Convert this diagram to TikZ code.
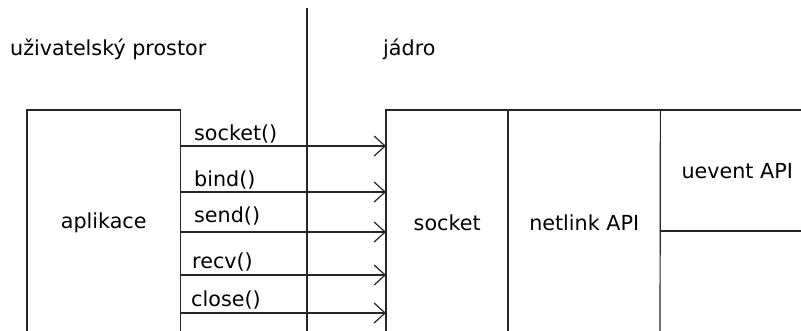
\documentclass[tikz,border=0pt]{standalone}
\usepackage{fontspec}
\setmainfont{DejaVu Sans}
\usetikzlibrary{arrows.meta}
\begin{document}
\begin{tikzpicture}[x=1pt,y=-1pt,
  cell/.style={rectangle,inner sep=0pt,font=\fontsize{20.7}{23}\selectfont},
  lbl/.style={inner sep=0pt,anchor=base west,font=\fontsize{20.7}{23}\selectfont},
  ln/.style={line width=1.2pt,draw=black!85},
  arr/.style={ln,-{Straight Barb[length=11pt,width=20pt,line width=1.2pt]}}]
\useasboundingbox (0,0) rectangle (801,330);
% titles
\node[lbl] (user) at (10,55) {uživatelský prostor};
\node[lbl] (kern) at (383,55) {jádro};
% divider
\coordinate (dtop) at (307,8);
\coordinate (dbot) at (307,335);
\draw[ln] (dtop) -- (dbot);
% boxes
\node[cell,minimum width=153pt,minimum height=226pt,anchor=north west] (app) at (27,110) {aplikace};
\node[cell,minimum width=122pt,minimum height=226pt,anchor=north west] (sock) at (386,110) {socket};
\node[cell,minimum width=152pt,minimum height=226pt,anchor=north west] (nl) at (508,110) {netlink API};
\node[cell,minimum width=154pt,minimum height=121pt,anchor=north west] (ue) at (660,110) {uevent API};
\node[cell,minimum width=154pt,minimum height=105pt,anchor=north west] (low) at (660,231) {};
\draw[ln] (app.south west) -- (app.north west) -- (app.north east) -- (app.south east);
\draw[ln] (sock.south west) -- (sock.north west) -- (ue.north east);
\draw[ln] (nl.north west) -- (nl.south west);
\draw[ln] (nl.north east) -- (low.south west);
\draw[ln] (low.north west) -- (low.north east);
% calls
\foreach \n/\y/\ty/\tx/\t in {1/146/140/194/socket(),2/192/186/194/bind(),3/232/222/194/send(),4/275/268/192/recv(),5/313/306/191/close()}{
  \coordinate (s\n) at (app.east |- 0,\y);
  \draw[arr] (s\n) -- (s\n -| sock.west);
  \node[lbl] (t\n) at (\tx,\ty) {\t};
}
\end{tikzpicture}
\end{document}
